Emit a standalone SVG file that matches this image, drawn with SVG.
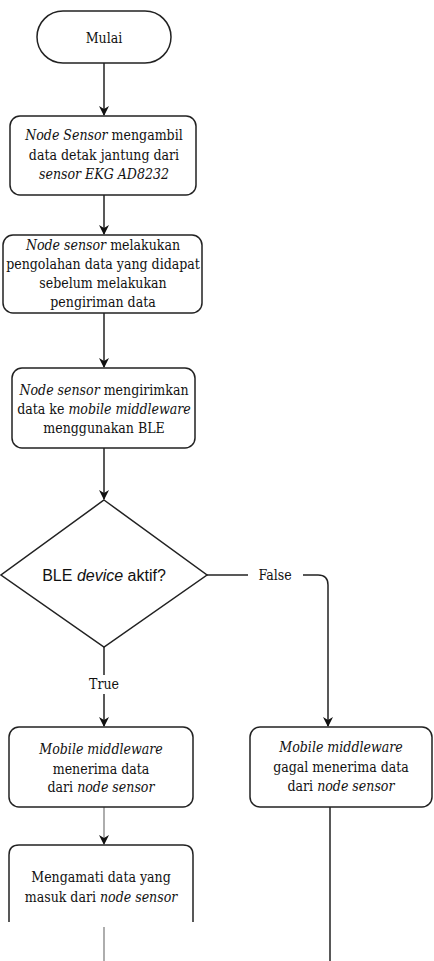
<svg xmlns="http://www.w3.org/2000/svg" width="434" height="961" viewBox="0 0 434 961">
<style>
.box{fill:#fff;stroke:#222;stroke-width:1.5}
.ln{fill:none;stroke:#222;stroke-width:1.5}
.lg{fill:none;stroke:#777;stroke-width:1.2}
.t{font-family:'DejaVu Serif Condensed','DejaVu Serif',serif;font-stretch:condensed;font-size:14px;fill:#111;text-anchor:middle}
.s{font-family:'Liberation Sans',Arial,sans-serif;font-size:16px;fill:#111;text-anchor:middle}
.i{font-style:italic}
</style>
<defs>
<marker id="ah" viewBox="0 0 10 10" refX="9" refY="5" markerWidth="10" markerHeight="10" markerUnits="userSpaceOnUse" orient="auto">
<path d="M0,0 L10,5 L0,10 L3,5 Z" fill="#111"/>
</marker>
</defs>
<g id="connectors">
<line class="ln" x1="104" y1="63" x2="104" y2="115" marker-end="url(#ah)"/>
<line class="ln" x1="104" y1="195" x2="104" y2="234" marker-end="url(#ah)"/>
<line class="ln" x1="104" y1="313" x2="104" y2="367" marker-end="url(#ah)"/>
<line class="ln" x1="104" y1="448" x2="104" y2="499" marker-end="url(#ah)"/>
<line class="ln" x1="207" y1="575" x2="248" y2="575"/>
<path class="ln" d="M303,575 L318,575 Q328,575 328,585 L328,726" marker-end="url(#ah)"/>
<line class="ln" x1="104" y1="647" x2="104" y2="675"/>
<line class="ln" x1="104" y1="694" x2="104" y2="726" marker-end="url(#ah)"/>
<line class="lg" x1="104" y1="807" x2="104" y2="844" marker-end="url(#ah)"/>
<line class="lg" x1="104" y1="927" x2="104" y2="961"/>
<line class="ln" x1="330" y1="807" x2="330" y2="961"/>
<text class="t" x="275" y="580">False</text>
<text class="t" x="104" y="689">True</text>
</g>
<g id="start">
<rect class="box" x="37" y="11" width="134" height="52" rx="26" ry="26"/>
<text class="t" x="104" y="43">Mulai</text>
</g>
<g id="step1">
<rect class="box" x="10" y="116" width="186" height="79" rx="10"/>
<text class="t" x="104" y="140"><tspan class="i">Node Sensor</tspan> mengambil</text>
<text class="t" x="104" y="160">data detak jantung dari</text>
<text class="t i" x="104" y="179">sensor EKG AD8232</text>
</g>
<g id="step2">
<rect class="box" x="3" y="235" width="199" height="78" rx="10"/>
<text class="t" x="103" y="250"><tspan class="i">Node sensor</tspan> melakukan</text>
<text class="t" x="103" y="269">pengolahan data yang didapat</text>
<text class="t" x="103" y="288">sebelum melakukan</text>
<text class="t" x="103" y="307">pengiriman data</text>
</g>
<g id="step3">
<rect class="box" x="12" y="368" width="183" height="80" rx="10"/>
<text class="t" x="104" y="395"><tspan class="i">Node sensor</tspan> mengirimkan</text>
<text class="t" x="104" y="414">data ke <tspan class="i">mobile middleware</tspan></text>
<text class="t" x="104" y="433">menggunakan BLE</text>
</g>
<g id="decision">
<polygon class="box" points="104,500 207,575 104,647 1,575"/>
<text class="s" x="104" y="581">BLE <tspan class="i">device</tspan> aktif?</text>
</g>
<g id="fail">
<rect class="box" x="250" y="727" width="182" height="80" rx="10"/>
<text class="t i" x="341" y="752">Mobile middleware</text>
<text class="t" x="341" y="772">gagal menerima data</text>
<text class="t" x="341" y="791">dari <tspan class="i">node sensor</tspan></text>
</g>
<g id="receive">
<rect class="box" x="9" y="727" width="184" height="80" rx="10"/>
<text class="t i" x="101" y="754">Mobile middleware</text>
<text class="t" x="101" y="774">menerima data</text>
<text class="t" x="101" y="792">dari <tspan class="i">node sensor</tspan></text>
</g>
<g id="observe">
<path class="box" d="M9,922 L9,855 Q9,845 19,845 L183,845 Q193,845 193,855 L193,922"/>
<text class="t" x="101" y="882">Mengamati data yang</text>
<text class="t" x="101" y="902">masuk dari <tspan class="i">node sensor</tspan></text>
</g>
</svg>
